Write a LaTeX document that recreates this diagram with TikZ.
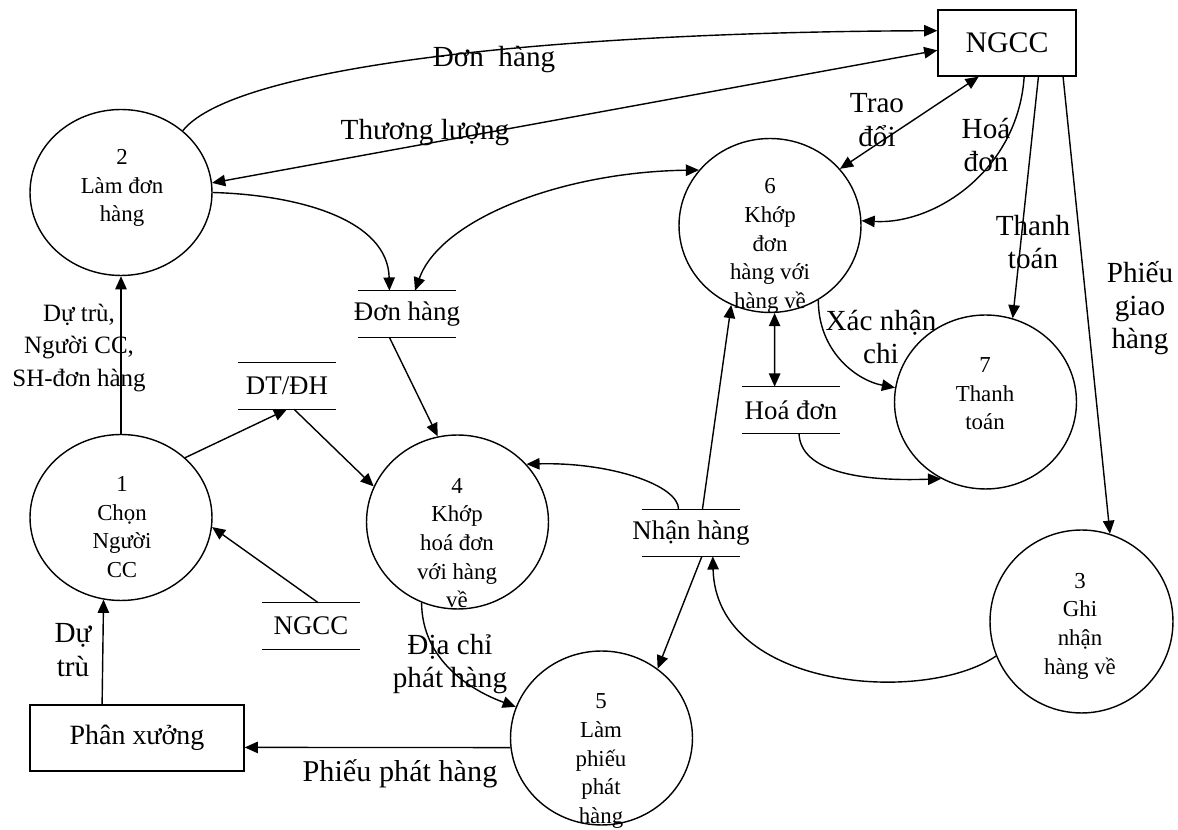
\documentclass[tikz,border=0pt]{standalone}
\usepackage{fontspec}
\setmainfont{Liberation Serif}
\usetikzlibrary{shapes,arrows.meta}

\tikzset{
  proc/.style={shape=ellipse,draw=black,line width=0.8pt,minimum width=3.64cm,minimum height=3.48cm,inner sep=0pt},
  ptext/.style={align=center,font=\fontsize{13}{16.3}\selectfont},
  store/.style={shape=rectangle,minimum width=1.94cm,minimum height=0.92cm,inner sep=0pt,font=\fontsize{15.3}{17}\selectfont},
  ext/.style={shape=rectangle,draw=black,line width=0.8pt,inner sep=0pt,minimum height=1.32cm},
  lbl/.style={align=center,font=\fontsize{16.6}{19}\selectfont},
  flow/.style={draw=black,line width=0.8pt},
}

\begin{document}
\begin{tikzpicture}[x=0.02cm,y=-0.02cm,>={Triangle[length=7.5pt,width=6.5pt]}]
\useasboundingbox (0,0) rectangle (1178,830);

% processes
\node[proc,minimum height=3.32cm] (p1) at (121,517.5) {};
\node[proc,minimum height=3.32cm] (p2) at (121,192.5) {};
\node[proc,minimum width=3.66cm,minimum height=3.66cm] (p3) at (1081.5,621.5) {};
\node[proc] (p4) at (457.5,522) {};
\node[proc] (p5) at (601.5,738) {};
\node[proc] (p6) at (770,225.5) {};
\node[proc] (p7) at (985.5,402) {};

\node[ptext] (t1) at (122,527) {1\\Chọn\\Người\\CC};
\node[ptext] (t2) at (122,188) {2\\Làm đơn\\hàng};
\node[ptext] (t3) at (1080,626) {3\\Ghi\\nhận\\hàng về};
\node[ptext] (t4) at (457,543) {4\\Khớp\\hoá đơn\\với hàng\\về};
\node[ptext] (t5) at (601,761) {5\\Làm\\phiếu\\phát\\hàng};
\node[ptext] (t6) at (770,246) {6\\Khớp\\đơn\\hàng với\\hàng về};
\node[ptext] (t7) at (985,394) {7\\Thanh\\toán};

% external entities
\node[ext,minimum width=2.76cm,font=\fontsize{17}{20}\selectfont] (ngcc) at (1007,43) {NGCC};
\node[ext,minimum width=4.28cm,font=\fontsize{15.9}{19}\selectfont] (px) at (137,738) {Phân xưởng};

% data stores
\node[store] (sDH) at (407,314) {\makebox[0pt]{Đơn hàng}};
\node[store] (sDT) at (287,386) {DT/ĐH};
\node[store] (sNG) at (311,626) {NGCC};
\node[store] (sHD) at (791,410) {Hoá đơn};
\node[store] (sNH) at (691,533) {\makebox[0pt]{Nhận hàng}};

\draw[flow] (sDH.north west) -- (sDH.north east) (sDH.south west) -- (sDH.south east);
\draw[flow] (sDT.north west) -- (sDT.north east) (sDT.south west) -- (sDT.south east);
\draw[flow] (sNG.north west) -- (sNG.north east) (sNG.south west) -- (sNG.south east);
\draw[flow] (sHD.north west) -- (sHD.north east) (sHD.south west) -- (sHD.south east);
\draw[flow] (sNH.north west) -- (sNH.north east) (sNH.south west) -- (sNH.south east);

% flow labels
\node[lbl] (lDH) at (494,60) {Đơn~ hàng};
\node[lbl] (lTL) at (425,133) {Thương lượng};
\node[lbl] (lTD) at (877,120) {Trao\\đổi};
\node[lbl] (lHD) at (986,145) {Hoá\\đơn};
\node[lbl] (lTT) at (1033,242) {Thanh\\toán};
\node[lbl] (lPG) at (1140,308) {Phiếu\\giao\\hàng};
\node[lbl] (lXN) at (881,337) {Xác nhận\\chi};
\node[lbl,font=\fontsize{14.2}{18.5}\selectfont] (lDT) at (79,348) {Dự trù,\\Người CC,\\SH-đơn hàng};
\node[lbl] (lDu) at (73,650) {Dự\\trù};
\node[lbl] (lDC) at (450,664) {Địa chỉ\\phát hàng};
\node[lbl,font=\fontsize{17.2}{20}\selectfont] (lPP) at (400,774) {Phiếu phát hàng};

% flows
\draw[flow,->] (p2.45) .. controls (235,65) and (560,32) .. (ngcc.170);
\draw[flow,<->] (ngcc.186) -- (p2.6);
\draw[flow,<->] (ngcc.230) -- (p6.39);
\draw[flow,->] (ngcc.297) .. controls (1018,170) and (935,225) .. (p6.3);
\draw[flow,->] (ngcc.313) -- (p7.72);
\draw[flow,->] (ngcc.329) -- (p3.72);
\draw[flow,->] (p2.east) .. controls (300,195) and (388,220) .. (sDH.127);
\draw[flow,<->] (sDH.71) .. controls (440,220) and (560,172) .. (p6.142);
\draw[flow,->] (p1.north) -- (p2.south);
\draw[flow,->] (p1.43) -- (sDT.south);
\draw[flow,->] (sDT.287) -- (p4.157);
\draw[flow,->] (sDH.233) -- (p4.103);
\draw[flow,->] (sNG.73) -- (p1.-6);
\draw[flow,->] (px.136) -- (p1.258);
\draw[flow,->] (p5.186) -- (px.355);
\draw[flow,->] (p4.246) .. controls (422,660) and (470,690) .. (p5.160);
\draw[flow,->] (sNH.118) .. controls (679,485) and (610,462) .. (p4.40);
\draw[flow,->] (sNH.64) -- (p6.244);
\draw[flow,<->] (sHD.125) -- (p6.273);
\draw[flow,->] (p6.303) .. controls (818,350) and (855,380) .. (p7.171);
\draw[flow,->] (sHD.289) .. controls (800,468) and (850,482) .. (p7.240);
\draw[flow,->] (sNH.295) -- (p5.51);
\draw[flow,->] (p3.202) .. controls (925,705) and (716,690) .. (sNH.313);
\end{tikzpicture}
\end{document}
